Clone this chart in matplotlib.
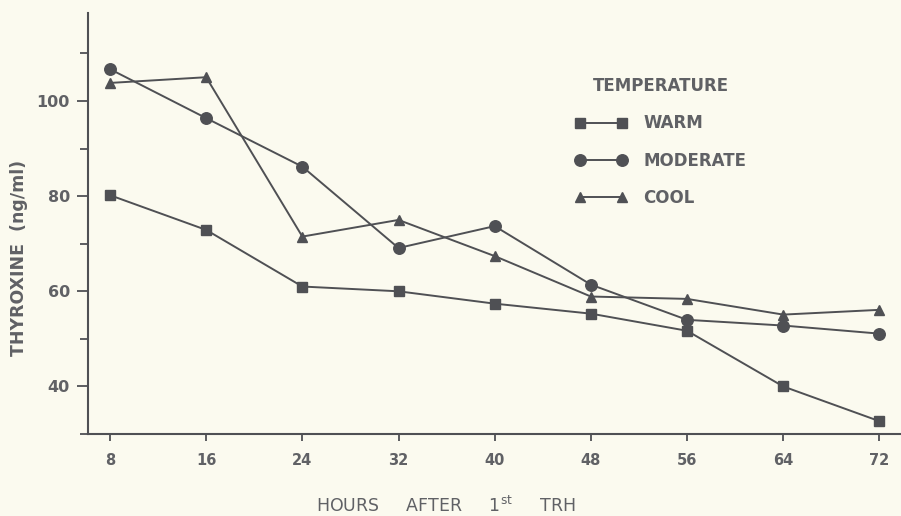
import matplotlib
matplotlib.use("Agg")
import matplotlib.pyplot as plt
from matplotlib.ticker import MultipleLocator

hours = [8, 16, 24, 32, 40, 48, 56, 64, 72]
warm = [80.2, 72.9, 61.0, 60.0, 57.4, 55.3, 51.7, 40.0, 32.7]
moderate = [106.7, 96.4, 86.2, 69.1, 73.7, 61.4, 54.0, 52.8, 51.1]
cool = [103.8, 105.0, 71.5, 75.0, 67.4, 58.9, 58.4, 55.1, 56.1]

series = [("WARM", warm, "s", 7.5), ("MODERATE", moderate, "o", 8.3), ("COOL", cool, "^", 7.3)]

bg = "#fbfaef"
ink = "#4f5054"
txt = "#606165"

plt.rcParams["font.family"] = ["DejaVu Sans"]

fig = plt.figure(figsize=(9.01, 5.16), dpi=100, facecolor=bg)
ax = fig.add_axes([88 / 901, 1 - 434 / 516, 1 - 88 / 901, 421 / 516])
ax.set_facecolor(bg)

for name, vals, mk, ms in series:
    ax.plot(hours, vals, color=ink, lw=1.4, marker=mk, ms=ms,
            markerfacecolor=ink, markeredgecolor=ink, label=name)

ax.set_xlim(6.17, 73.8)
ax.set_ylim(30.0, 118.5)
ax.set_xticks(hours)
ax.yaxis.set_minor_locator(MultipleLocator(10))
ax.set_yticks([40, 60, 80, 100])

for s in ["top", "right"]:
    ax.spines[s].set_visible(False)
for s in ["left", "bottom"]:
    ax.spines[s].set_color(ink)
    ax.spines[s].set_linewidth(1.5)

ax.tick_params(axis="both", which="both", direction="out", color=ink, width=1.3)
ax.tick_params(axis="y", which="major", length=8, pad=5, labelsize=11.5, labelcolor=txt)
ax.tick_params(axis="y", which="minor", length=6)
ax.tick_params(axis="x", which="major", length=5, pad=9, labelsize=10.5, labelcolor=txt)
for lab in ax.get_yticklabels() + ax.get_xticklabels():
    lab.set_fontweight("bold")

# y label sits a bit below the axis middle, as in the scan
ax.set_ylabel("THYROXINE  (ng/ml)", fontsize=12.5, fontweight="bold", color=txt)
ax.yaxis.set_label_coords(-0.074, 0.418)
ax.set_xlabel("HOURS     AFTER     1$^{\\mathregular{st}}$     TRH", fontsize=12.5, color=txt)
ax.xaxis.set_label_coords(0.44, -0.148)

leg = ax.legend(title="TEMPERATURE", frameon=False, numpoints=2, handlelength=3.1,
                handletextpad=1.0, labelspacing=1.15, loc="upper left",
                bbox_to_anchor=(560 / 901, 1 - 62 / 516), bbox_transform=fig.transFigure,
                prop={"size": 12, "weight": "bold"},
                title_fontproperties={"size": 12, "weight": "bold"})
for t in leg.get_texts():
    t.set_color(txt)
leg.get_title().set_color(txt)
leg._legend_box.sep = 14

fig.savefig("out.png", dpi=100, facecolor=bg)
